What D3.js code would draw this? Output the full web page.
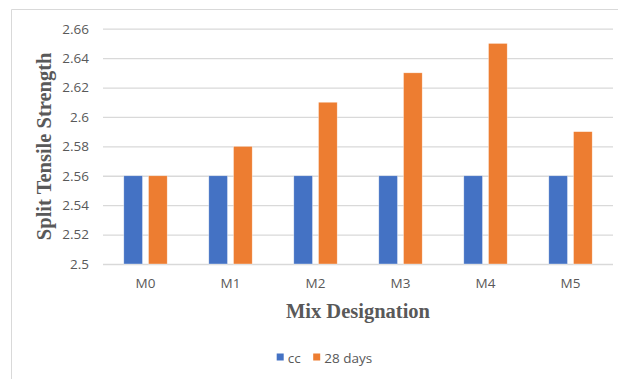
<!DOCTYPE html>
<html>
<head>
<meta charset="utf-8">
<script src="https://cdn.jsdelivr.net/npm/d3@7"></script>
<style>
  html, body { margin: 0; padding: 0; background: #fff; }
  svg { display: block; }
</style>
</head>
<body>
<svg id="chart" width="618" height="379"></svg>
<script>
// Split tensile strength per mix, cc vs 28 days
const categories = ["M0", "M1", "M2", "M3", "M4", "M5"];
const seriesNames = ["cc", "28 days"];
const ccValues = [2.56, 2.56, 2.56, 2.56, 2.56, 2.56];
const day28Values = [2.56, 2.58, 2.61, 2.63, 2.65, 2.59];
const yTicks = [2.5, 2.52, 2.54, 2.56, 2.58, 2.6, 2.62, 2.64, 2.66];
const colors = ["#4472C4", "#ED7D31"];

const svg = d3.select("#chart");
const textColor = "#595959";
const tickFont = "'Open Sans', 'Liberation Sans', sans-serif";
const titleFont = "'Liberation Serif', 'Times New Roman', serif";

// Outer chart frame (left and top edges visible)
svg.append("line").attr("x1", 11.5).attr("y1", 9.5).attr("x2", 618).attr("y2", 9.5)
  .attr("stroke", "#d9d9d9").attr("stroke-width", 1);
svg.append("line").attr("x1", 11.5).attr("y1", 9.5).attr("x2", 11.5).attr("y2", 379)
  .attr("stroke", "#d9d9d9").attr("stroke-width", 1);

const plot = { left: 103, right: 613, top: 28.7, bottom: 264 };

const y = d3.scaleLinear().domain([2.5, 2.66]).range([plot.bottom, plot.top]);
const x0 = d3.scaleBand().domain(categories).range([plot.left, plot.right]);
const x1 = d3.scaleBand().domain(seriesNames).range([-21.7, 21.7]).paddingInner(0.243);

// Gridlines and y labels via axis
const yAxis = d3.axisLeft(y).tickValues(yTicks)
  .tickSize(-(plot.right - plot.left)).tickPadding(14)
  .tickFormat(d => d3.format("")(+d.toFixed(2)));
const yg = svg.append("g").attr("transform", `translate(${plot.left},0)`).call(yAxis);
yg.select(".domain").remove();
yg.selectAll(".tick line").attr("stroke", "#d9d9d9").attr("stroke-width", 1.3);
yg.selectAll(".tick text").attr("fill", textColor)
  .style("font-family", tickFont).style("font-size", "13.5px");

// Bars
const rows = categories.map((c, i) => ({ cat: c, values: [ccValues[i], day28Values[i]] }));
const groups = svg.append("g").selectAll("g").data(rows).join("g")
  .attr("transform", d => `translate(${x0(d.cat) + x0.bandwidth() / 2},0)`);
groups.selectAll("rect")
  .data(d => d.values.map((v, j) => ({ name: seriesNames[j], value: v, j })))
  .join("rect")
  .attr("x", d => x1(d.name))
  .attr("width", x1.bandwidth())
  .attr("y", d => y(d.value))
  .attr("height", d => y(2.5) - y(d.value))
  .attr("fill", d => colors[d.j])
  .attr("stroke", "#fff").attr("stroke-width", 0.6).attr("stroke-opacity", 0.6);

// X axis labels
const xAxis = d3.axisBottom(x0).tickSize(0).tickPadding(14);
const xg = svg.append("g").attr("transform", `translate(0,${plot.bottom})`).call(xAxis);
xg.select(".domain").remove();
xg.selectAll(".tick text").attr("fill", textColor)
  .style("font-family", tickFont).style("font-size", "13.5px");

// Axis titles
svg.append("text")
  .attr("x", (plot.left + plot.right) / 2).attr("y", 317.5)
  .attr("text-anchor", "middle").attr("fill", textColor)
  .style("font-family", titleFont).style("font-weight", "bold").style("font-size", "20.5px")
  .text("Mix Designation");
svg.append("text")
  .attr("transform", `translate(51,${(plot.top + plot.bottom) / 2}) rotate(-90)`)
  .attr("text-anchor", "middle").attr("fill", textColor)
  .style("font-family", titleFont).style("font-weight", "bold").style("font-size", "20.5px")
  .text("Split Tensile Strength");

// Legend
const legendItems = [
  { name: seriesNames[0], color: colors[0], x: 276.7 },
  { name: seriesNames[1], color: colors[1], x: 313.2 }
];
const lg = svg.append("g").selectAll("g").data(legendItems).join("g")
  .attr("transform", d => `translate(${d.x},353.5)`);
lg.append("rect").attr("width", 7).attr("height", 7).attr("fill", d => d.color);
lg.append("text").attr("x", 11).attr("y", 9.8).attr("fill", textColor)
  .style("font-family", tickFont).style("font-size", "13.5px")
  .text(d => d.name);
</script>
</body>
</html>
